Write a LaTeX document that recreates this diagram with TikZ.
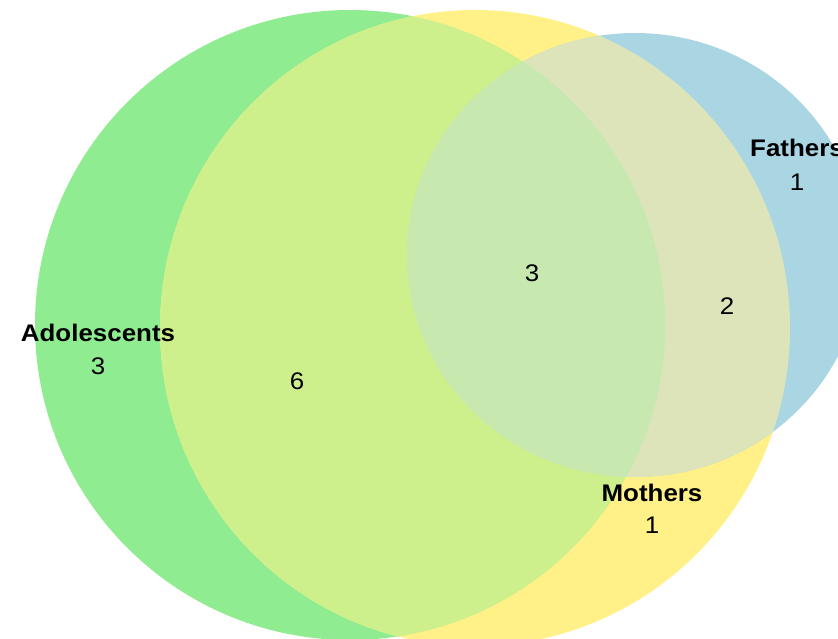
\documentclass[tikz,border=0pt]{standalone}
\usepackage{fontspec}
\setmainfont{Liberation Sans}
\definecolor{cG}{RGB}{144,236,144}
\definecolor{cY}{RGB}{255,240,135}
\definecolor{cB}{RGB}{170,214,228}
\definecolor{cGY}{RGB}{206,240,140}
\definecolor{cYB}{RGB}{221,228,186}
\definecolor{cGB}{RGB}{190,230,190}
\definecolor{cGYB}{RGB}{199,233,176}
\begin{document}
\begin{tikzpicture}[x=1pt,y=-1pt,
  lab/.style={font=\fontsize{24}{24}\selectfont\bfseries, inner sep=0pt, xscale=1.08},
  num/.style={font=\fontsize{24}{24}\selectfont, inner sep=0pt, xscale=1.08}]
\useasboundingbox (0,0) rectangle (838,638);
\clip (0,0) rectangle (838,638);
\def\pG{(350,325) ellipse [x radius=315, y radius=315]}
\def\pY{(475,328) ellipse [x radius=315, y radius=318]}
\def\pB{(635,255) ellipse [x radius=228, y radius=222]}
\fill[cG] \pG;
\fill[cY] \pY;
\fill[cB] \pB;
\begin{scope}\clip \pG; \fill[cGY] \pY; \end{scope}
\begin{scope}\clip \pY; \fill[cYB] \pB; \end{scope}
\begin{scope}\clip \pG; \fill[cGB] \pB; \end{scope}
\begin{scope}\clip \pG; \clip \pY; \fill[cGYB] \pB; \end{scope}
\node[lab] (adol) at (98,333) {Adolescents};
\node[num] (adoln) at (98,366) {3};
\node[num] (gy) at (297,381) {6};
\node[num] (gyb) at (532,273) {3};
\node[num] (yb) at (727,306) {2};
\node[lab, anchor=west] (fath) at (750,148) {Fathers};
\node[num] (fathn) at (797,182) {1};
\node[lab] (moth) at (652,493) {Mothers};
\node[num] (mothn) at (652,525) {1};
\end{tikzpicture}
\end{document}
